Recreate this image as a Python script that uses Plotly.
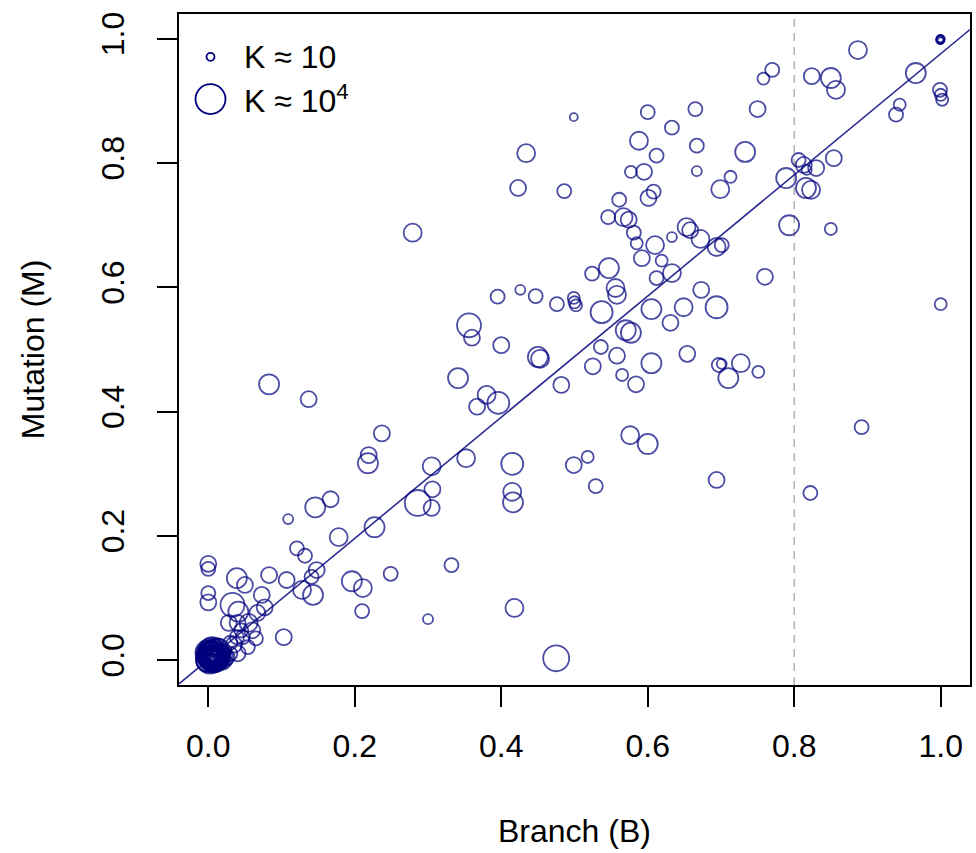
import plotly.graph_objects as go

# ---- data ----
branch_B = [
    1.000, 0.999, 1.000, 0.887, 0.824, 0.850, 0.857, 0.966, 0.999, 1.000,
    1.002, 0.944, 0.939, 1.000, 0.770, 0.758, 0.750, 0.665, 0.600, 0.633,
    0.588, 0.612, 0.667, 0.667, 0.733, 0.577, 0.595, 0.699, 0.713, 0.499,
    0.601, 0.608, 0.561, 0.546, 0.567, 0.574, 0.581, 0.585, 0.610, 0.592,
    0.619, 0.633, 0.653, 0.658, 0.672, 0.694, 0.701, 0.547, 0.524, 0.612,
    0.633, 0.556, 0.558, 0.500, 0.537, 0.605, 0.649, 0.631, 0.673, 0.694,
    0.570, 0.577, 0.760, 0.793, 0.850, 0.789, 0.806, 0.813, 0.817, 0.830,
    0.854, 0.816, 0.823,
    0.083, 0.137, 0.237, 0.219, 0.218, 0.109, 0.146, 0.167, 0.178, 0.227,
    0.121, 0.132, 0.148, 0.141, 0.143, 0.128, 0.107, 0.083, 0.039, 0.050,
    0.000, 0.000, 0.000, 0.000, 0.033, 0.041, 0.028, 0.073, 0.077, 0.067,
    0.040, 0.060, 0.047, 0.040, 0.030, 0.103, 0.196, 0.211, 0.210, 0.249,
    0.300, 0.332, 0.305, 0.306, 0.305, 0.286, 0.352, 0.341, 0.380, 0.367,
    0.396, 0.400, 0.450, 0.453, 0.482, 0.415, 0.415, 0.416, 0.499, 0.418,
    0.475, 0.356, 0.360, 0.395, 0.426, 0.447, 0.476, 0.499, 0.502, 0.434,
    0.423, 0.486, 0.279,
    0.536, 0.558, 0.525, 0.605, 0.654, 0.697, 0.701, 0.727, 0.710, 0.751,
    0.565, 0.584, 0.576, 0.600, 0.518, 0.529, 0.694, 0.892, 0.822,
    0.000, 0.002, 0.005, 0.000, 0.008, 0.003, 0.010, 0.000, 0.004, 0.012,
    0.015, 0.006, 0.018, 0.020, 0.001, 0.000, 0.022, 0.025, 0.009, 0.030,
    0.015, 0.039, 0.054, 0.045, 0.035, 0.055, 0.065,
    0.000, 0.001, 0.003, 0.006, 0.002, 0.000, 0.007, 0.004, 0.010, 0.001,
    0.005, 0.008, 0.000, 0.012, 0.003, 0.006, 0.014, 0.009, 0.002, 0.011,
    0.000, 0.004, 0.016, 0.007, 1.000, 0.999,
    0.001, 0.004, 0.009, 0.013, 0.002, 0.006, 0.011, 0.003, 0.017, 0.008,
    0.000, 0.005,
]
mutation_M = [
    1.000, 0.998, 0.997, 0.982, 0.940, 0.937, 0.918, 0.945, 0.918, 0.910,
    0.902, 0.894, 0.878, 0.573, 0.950, 0.936, 0.887, 0.887, 0.882, 0.857,
    0.836, 0.812, 0.828, 0.787, 0.818, 0.786, 0.786, 0.758, 0.778, 0.874,
    0.744, 0.754, 0.741, 0.713, 0.713, 0.709, 0.688, 0.671, 0.668, 0.647,
    0.643, 0.681, 0.697, 0.692, 0.678, 0.665, 0.668, 0.631, 0.622, 0.615,
    0.623, 0.599, 0.588, 0.576, 0.560, 0.565, 0.568, 0.543, 0.596, 0.568,
    0.531, 0.527, 0.617, 0.700, 0.694, 0.776, 0.805, 0.797, 0.789, 0.792,
    0.808, 0.760, 0.757,
    0.444, 0.420, 0.365, 0.330, 0.317, 0.227, 0.246, 0.259, 0.198, 0.214,
    0.180, 0.168, 0.145, 0.134, 0.105, 0.113, 0.129, 0.137, 0.132, 0.121,
    0.155, 0.147, 0.108, 0.093, 0.089, 0.078, 0.060, 0.105, 0.085, 0.076,
    0.060, 0.048, 0.037, 0.011, 0.028, 0.037, 0.127, 0.116, 0.079, 0.139,
    0.066, 0.153, 0.312, 0.275, 0.245, 0.253, 0.325, 0.454, 0.427, 0.408,
    0.414, 0.507, 0.488, 0.485, 0.443, 0.316, 0.271, 0.254, 0.314, 0.084,
    0.003, 0.539, 0.519, 0.585, 0.596, 0.586, 0.573, 0.583, 0.571, 0.816,
    0.760, 0.755, 0.688,
    0.504, 0.490, 0.473, 0.478, 0.493, 0.475, 0.477, 0.478, 0.454, 0.464,
    0.459, 0.444, 0.362, 0.348, 0.327, 0.280, 0.290, 0.375, 0.269,
    0.000, 0.003, 0.000, 0.006, 0.004, 0.010, 0.000, 0.000, 0.002, 0.008,
    0.003, 0.012, 0.010, 0.000, 0.001, 0.002, 0.015, 0.005, 0.018, 0.010,
    0.020, 0.037, 0.021, 0.048, 0.025, 0.060, 0.035,
    0.001, 0.000, 0.002, 0.001, 0.004, 0.006, 0.003, 0.000, 0.002, 0.008,
    0.005, 0.000, 0.009, 0.004, 0.007, 0.011, 0.001, 0.006, 0.012, 0.003,
    0.004, 0.008, 0.007, 0.014, 0.999, 1.000,
    0.010, 0.015, 0.013, 0.006, 0.000, 0.002, 0.016, 0.009, 0.004, 0.001,
    0.012, 0.018,
]
log10_K = [
    1.00, 1.00, 0.80, 2.36, 2.09, 2.64, 2.36, 2.64, 1.82, 1.55,
    1.55, 1.55, 1.82, 1.55, 1.82, 1.55, 2.09, 1.82, 1.82, 1.82,
    2.36, 1.82, 1.82, 1.27, 2.64, 1.55, 2.09, 2.36, 1.55, 1.00,
    2.09, 1.82, 1.82, 1.82, 2.36, 2.09, 1.82, 1.55, 2.36, 2.09,
    1.55, 1.27, 2.36, 2.09, 2.36, 2.36, 1.82, 2.64, 1.82, 1.82,
    2.36, 2.36, 2.36, 1.55, 2.91, 2.64, 2.36, 2.09, 2.09, 2.91,
    2.64, 2.64, 2.09, 2.64, 1.55, 2.64, 1.82, 2.09, 1.27, 2.09,
    2.09, 2.64, 2.36,
    2.64, 2.09, 2.09, 2.09, 2.64, 1.27, 2.64, 2.09, 2.36, 2.64,
    1.82, 1.82, 2.09, 1.82, 2.64, 2.36, 2.09, 2.09, 2.64, 2.09,
    2.09, 1.82, 1.82, 2.09, 3.18, 2.64, 2.09, 2.09, 2.09, 2.09,
    2.09, 2.09, 1.82, 2.09, 1.82, 2.09, 2.64, 2.36, 1.82, 1.82,
    1.27, 1.82, 2.36, 2.09, 2.09, 3.45, 2.36, 2.64, 2.36, 2.09,
    2.91, 2.09, 2.64, 2.36, 2.09, 2.91, 2.36, 2.64, 2.09, 2.36,
    3.45, 3.18, 2.09, 1.82, 1.27, 1.82, 1.82, 1.55, 1.55, 2.36,
    2.09, 1.82, 2.36,
    1.82, 2.09, 2.09, 2.64, 2.09, 1.82, 1.27, 2.36, 2.64, 1.55,
    1.55, 2.09, 2.36, 2.64, 1.55, 1.82, 2.09, 1.82, 1.82,
    3.18, 2.91, 2.64, 2.36, 3.18, 2.09, 2.36, 1.82, 1.55, 2.64,
    2.36, 2.91, 2.09, 2.09, 1.27, 1.00, 1.82, 2.09, 1.82, 1.82,
    2.36, 1.82, 1.82, 1.82, 2.09, 2.36, 1.82,
    3.30, 3.20, 3.10, 3.40, 3.00, 2.90, 3.25, 2.80, 3.35, 3.05,
    2.70, 3.15, 2.95, 3.00, 2.85, 3.20, 2.75, 3.10, 2.90, 3.00,
    2.60, 3.30, 2.80, 3.05, 1.00, 0.90,
    3.50, 3.40, 3.45, 3.30, 3.55, 3.35, 3.20, 3.50, 3.25, 3.45,
    3.40, 3.10,
]
legend_labels = ["K \u2248 10", "K \u2248 10<sup>4</sup>"]
legend_logK = [1.0, 4.0]
tick_vals = [0.0, 0.2, 0.4, 0.6, 0.8, 1.0]
tick_text = ["0.0", "0.2", "0.4", "0.6", "0.8", "1.0"]
fit_slope = 0.975
fit_intercept = 0.001
threshold_B = 0.8

NAVY = "#00007f"
FONT = "Liberation Sans, Arial, sans-serif"
FS = 32


def k_to_px(lk):
    return 8 + (lk - 1.0) * 22.0 / 3.0


line_x = [-0.04, 1.04]
line_y = [fit_intercept + fit_slope * v for v in line_x]

fig = go.Figure()
fig.add_trace(go.Scatter(
    x=line_x, y=line_y, mode="lines",
    line=dict(color="#2a2a90", width=1.6), hoverinfo="skip", showlegend=False,
))
fig.add_trace(go.Scatter(
    x=branch_B, y=mutation_M, mode="markers",
    marker=dict(symbol="circle-open", size=[k_to_px(v) for v in log10_K],
                color=NAVY, line=dict(width=1.8)),
    showlegend=False,
))

shapes = [dict(type="line", xref="x", yref="paper", x0=threshold_B, x1=threshold_B,
               y0=0, y1=1, line=dict(color="#b0b0b0", width=1.5, dash="8px,6px"),
               layer="below")]
annotations = []
leg_y = [0.971, 0.903]
for lab, lk, yy in zip(legend_labels, legend_logK, leg_y):
    r = k_to_px(lk) / 2
    shapes.append(dict(type="circle", xref="x", yref="y", xsizemode="pixel",
                       ysizemode="pixel", xanchor=0.003, yanchor=yy,
                       x0=-r, x1=r, y0=-r, y1=r,
                       line=dict(color=NAVY, width=1.8)))
    annotations.append(dict(x=0.046, y=yy, xref="x", yref="y", text=lab,
                            showarrow=False, xanchor="left", yanchor="middle",
                            font=dict(family=FONT, size=FS, color="black")))

annotations.append(dict(x=0.5, y=-0.218, xref="paper", yref="paper",
                        text="Branch (B)", showarrow=False,
                        xanchor="center", yanchor="middle",
                        font=dict(family=FONT, size=FS, color="black")))
annotations.append(dict(x=-0.185, y=0.5, xref="paper", yref="paper",
                        text="Mutation (M)", showarrow=False, textangle=-90,
                        xanchor="center", yanchor="middle",
                        font=dict(family=FONT, size=FS, color="black")))

axis_common = dict(
    range=[-0.04, 1.04], tickvals=tick_vals, ticktext=tick_text,
    showgrid=False, zeroline=False, showline=True, mirror=True,
    linecolor="black", linewidth=1.5, ticks="outside", ticklen=20,
    tickwidth=1.5, tickcolor="black",
    tickfont=dict(family=FONT, size=FS, color="black"),
)
fig.update_layout(
    width=976, height=853,
    margin=dict(l=179, r=4, t=14, b=168),
    plot_bgcolor="white", paper_bgcolor="white",
    xaxis=dict(**axis_common, ticklabelstandoff=12),
    yaxis=dict(**axis_common, tickangle=-90, ticklabelstandoff=20),
    shapes=shapes, annotations=annotations, showlegend=False,
)
fig.write_html("out.html")
